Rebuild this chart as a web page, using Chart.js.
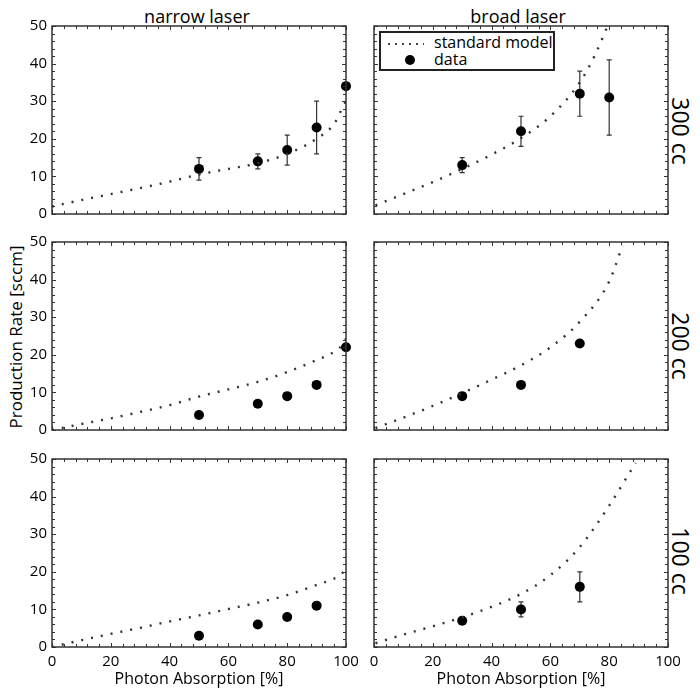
<!DOCTYPE html>
<html>
<head>
<meta charset="utf-8">
<script src="https://cdn.jsdelivr.net/npm/chart.js@4.4.1/dist/chart.umd.min.js"></script>
<style>
body { margin: 0; background: #fff; }
#fig { position: relative; width: 700px; height: 697px; font-family: "Open Sans", sans-serif; color: #000; }
.lbl { position: absolute; white-space: nowrap; transform: translate(-50%, -50%); }
#legend { position: absolute; left: 379px; top: 31px; width: 172px; height: 36px; border: 2px solid #222; background: #fff; font-size: 16px; }
#legend .row { position: absolute; left: 0; height: 18px; line-height: 18px; }
#legend .dots { position: absolute; left: 7px; top: 9px; width: 36px; height: 2px;
  background: repeating-linear-gradient(to right, #444 0 2px, transparent 2px 7px); }
#legend .dot { position: absolute; left: 24px; top: 4px; width: 10px; height: 10px; border-radius: 50%; background: #000; }
#legend .txt { position: absolute; left: 53px; top: -1px; }
</style>
</head>
<body>
<div id="fig">
  <div class="lbl" style="left:197px;top:16px;font-size:18px">narrow laser</div>
  <div class="lbl" style="left:518px;top:16px;font-size:18px">broad laser</div>
  <div class="lbl" style="left:15px;top:337px;font-size:17px;transform:translate(-50%,-50%) rotate(-90deg)">Production Rate [sccm]</div>
  <div class="lbl" style="left:681px;top:131px;font-size:23px;transform:translate(-50%,-50%) rotate(90deg)">300 cc</div>
  <div class="lbl" style="left:681px;top:346px;font-size:23px;transform:translate(-50%,-50%) rotate(90deg)">200 cc</div>
  <div class="lbl" style="left:681px;top:561px;font-size:23px;transform:translate(-50%,-50%) rotate(90deg)">100 cc</div>
</div>
<script>
// tick labels
const xTicks = [0, 20, 40, 60, 80, 100];
const yTicks = [0, 10, 20, 30, 40, 50];

// measured data, narrow laser
const narrowX = [50, 70, 80, 90, 100];
const narrow300 = [12, 14, 17, 23, 34];
const narrow300Lo = [9, 12, 13, 16, null];
const narrow300Hi = [15, 16, 21, 30, null];
const narrow200 = [4, 7, 9, 12, 22];
const narrow100X = [50, 70, 80, 90];
const narrow100 = [3, 6, 8, 11];

// measured data, broad laser
const broad300X = [30, 50, 70, 80];
const broad300 = [13, 22, 32, 31];
const broad300Lo = [11, 18, 26, 21];
const broad300Hi = [15, 26, 38, 41];
const broadX = [30, 50, 70];
const broad200 = [9, 12, 23];
const broad100 = [7, 10, 16];
const broad100Lo = [6, 8, 12];
const broad100Hi = [8, 12, 20];

// standard model curves
const modelNarrowX = [0, 10, 20, 30, 40, 50, 60, 70, 80, 90, 96, 98, 100];
const model300Narrow = [2, 3.7, 5.3, 6.9, 8.6, 10.5, 12, 13.5, 16, 20, 24, 27, 30];
const model200Narrow = [0, 1.6, 3.1, 4.8, 6.6, 8.9, 10.8, 12.8, 15.4, 18.6, 20.8, 22, 24.3];
const model100Narrow = [0, 1.8, 3.5, 5.1, 6.8, 8.4, 10.1, 11.8, 13.8, 16.5, 18.2, 19.2, 20.5];
const model300BroadX = [0.5, 10, 20, 30, 40, 50, 60, 70, 75, 80];
const model300Broad = [2.3, 5.3, 8.5, 12, 15.8, 20.2, 26, 35, 42, 51];
const model200BroadX = [0.5, 10, 20, 30, 40, 50, 60, 70, 80, 84.5];
const model200Broad = [0.5, 3.3, 6.4, 9.8, 13.4, 17.2, 22, 28.8, 39.5, 49];
const model100BroadX = [0.5, 10, 20, 30, 40, 50, 60, 70, 80, 89];
const model100Broad = [1, 3.3, 5.5, 7.9, 10.7, 14.1, 19.1, 26.6, 37.6, 49];

const FONT = '"Open Sans", sans-serif';
const fig = document.getElementById('fig');

function zip(xs, ys) {
    return xs.map((x, i) => ({ x: x, y: ys[i] }));
}

// vertical error bars, drawn under the dots
const errorBarPlugin = {
    id: 'errorBars',
    beforeDatasetsDraw(chart, args, opts) {
        if (!opts.lo) return;
        const { ctx, scales: { x, y } } = chart;
        const pts = chart.data.datasets[1].data;
        ctx.save();
        ctx.strokeStyle = '#333';
        ctx.lineWidth = 1.2;
        pts.forEach((p, i) => {
            if (opts.lo[i] == null) return;
            const px = x.getPixelForValue(p.x);
            const top = y.getPixelForValue(opts.hi[i]);
            const bot = y.getPixelForValue(opts.lo[i]);
            ctx.beginPath();
            ctx.moveTo(px, top); ctx.lineTo(px, bot);
            ctx.moveTo(px - 2.5, top); ctx.lineTo(px + 2.5, top);
            ctx.moveTo(px - 2.5, bot); ctx.lineTo(px + 2.5, bot);
            ctx.stroke();
        });
        ctx.restore();
    }
};

// box around the plot with inward ticks on all sides
const framePlugin = {
    id: 'frame',
    afterDatasetsDraw(chart) {
        const { ctx, chartArea: a, scales: { x, y } } = chart;
        ctx.save();
        ctx.strokeStyle = '#333';
        ctx.lineWidth = 1;
        ctx.beginPath();
        for (let v = 0; v <= 100; v += 4) {
            const px = Math.round(x.getPixelForValue(v)) + 0.5;
            const len = v % 20 === 0 ? 4 : 3;
            ctx.moveTo(px, a.bottom); ctx.lineTo(px, a.bottom - len);
            ctx.moveTo(px, a.top); ctx.lineTo(px, a.top + len);
        }
        for (let v = 0; v <= 50; v += 2) {
            const py = Math.round(y.getPixelForValue(v)) + 0.5;
            const len = v % 10 === 0 ? 4 : 3;
            ctx.moveTo(a.left, py); ctx.lineTo(a.left + len, py);
            ctx.moveTo(a.right, py); ctx.lineTo(a.right - len, py);
        }
        ctx.stroke();
        ctx.lineWidth = 1.5;
        ctx.strokeRect(a.left, a.top, a.right - a.left, a.bottom - a.top);
        ctx.restore();
    }
};

function makePanel(col, row, p) {
    const plotLeft = col === 0 ? 52 : 374;
    const plotTop = [26, 242, 459][row];
    const yW = col === 0 ? 52 : 10;
    const xH = row === 2 ? 46 : 8;
    const padT = 8, padR = 20;
    const w = yW + 294 + padR, h = padT + 188 + xH;
    const canvas = document.createElement('canvas');
    canvas.width = w;
    canvas.height = h;
    canvas.style.cssText = `position:absolute;left:${plotLeft - yW}px;top:${plotTop - padT}px;width:${w}px;height:${h}px`;
    fig.appendChild(canvas);

    new Chart(canvas, {
        type: 'scatter',
        data: {
            datasets: [{
                label: 'standard model',
                data: zip(p.mx, p.my),
                showLine: true,
                pointRadius: 0,
                borderColor: '#333',
                borderWidth: 2.4,
                borderDash: [2, 8],
                cubicInterpolationMode: 'monotone'
            }, {
                label: 'data',
                data: zip(p.x, p.y),
                pointRadius: 5,
                pointHoverRadius: 5,
                backgroundColor: '#000',
                borderColor: '#000',
                borderWidth: 0,
                clip: false
            }]
        },
        options: {
            responsive: false,
            animation: false,
            events: [],
            layout: { padding: { top: padT, right: padR, left: 0, bottom: 0 } },
            plugins: {
                legend: { display: false },
                tooltip: { enabled: false },
                errorBars: { lo: p.lo, hi: p.hi }
            },
            scales: {
                x: {
                    type: 'linear', min: 0, max: 100,
                    afterBuildTicks: s => { s.ticks = xTicks.map(v => ({ value: v })); },
                    afterFit: s => { s.height = xH; s.paddingLeft = 0; s.paddingRight = 0; },
                    grid: { display: false, drawTicks: false },
                    border: { display: false },
                    ticks: { display: row === 2, padding: 6, color: '#000', maxRotation: 0, autoSkip: false,
                             font: { family: FONT, size: 15 } },
                    title: { display: row === 2, text: 'Photon Absorption [%]', color: '#000',
                             padding: { top: 0, bottom: 4 }, font: { family: FONT, size: 16 } }
                },
                y: {
                    type: 'linear', min: 0, max: 50,
                    afterBuildTicks: s => { s.ticks = yTicks.map(v => ({ value: v })); },
                    afterFit: s => { s.width = yW; s.paddingTop = 0; s.paddingBottom = 0; },
                    grid: { display: false, drawTicks: false },
                    border: { display: false },
                    ticks: { display: col === 0, padding: 5, color: '#000', font: { family: FONT, size: 15 } }
                }
            }
        },
        plugins: [errorBarPlugin, framePlugin]
    });
}

makePanel(0, 0, { x: narrowX, y: narrow300, lo: narrow300Lo, hi: narrow300Hi, mx: modelNarrowX, my: model300Narrow });
makePanel(1, 0, { x: broad300X, y: broad300, lo: broad300Lo, hi: broad300Hi, mx: model300BroadX, my: model300Broad });
makePanel(0, 1, { x: narrowX, y: narrow200, mx: modelNarrowX, my: model200Narrow });
makePanel(1, 1, { x: broadX, y: broad200, mx: model200BroadX, my: model200Broad });
makePanel(0, 2, { x: narrow100X, y: narrow100, mx: modelNarrowX, my: model100Narrow });
makePanel(1, 2, { x: broadX, y: broad100, lo: broad100Lo, hi: broad100Hi, mx: model100BroadX, my: model100Broad });

// legend box inside the top right panel
const legend = document.createElement('div');
legend.id = 'legend';
legend.innerHTML =
    '<div class="row" style="top:1px;width:100%"><span class="dots"></span><span class="txt">standard model</span></div>' +
    '<div class="row" style="top:18px;width:100%"><span class="dot"></span><span class="txt">data</span></div>';
fig.appendChild(legend);
</script>
</body>
</html>
